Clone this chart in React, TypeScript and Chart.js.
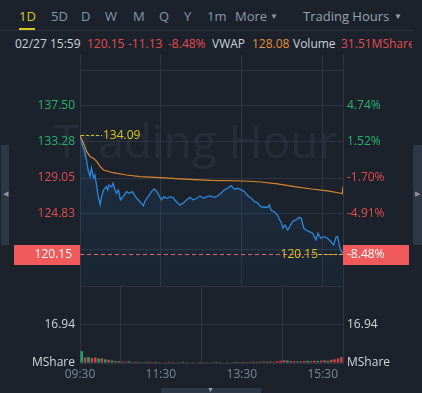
import React, { useEffect, useRef } from 'react';
import { Chart, registerables } from 'chart.js';

Chart.register(...registerables);

// ---------- data ----------
const prevClose = 131.28;
const lastPrice = 120.15;
const changeValue = -11.13;
const changePct = -8.48;
const vwapLast = 128.08;
const volumeTotal = 31.51;
const dayHigh = 134.09;
const dateLabel = '02/27 15:59';

const priceMinutes = [0, 4, 7, 10, 12, 15, 17, 20, 22, 25, 27, 30, 32, 35, 39, 41, 43, 47, 49, 52, 54, 57, 60, 64, 69, 73, 77, 79, 84, 89, 94, 96, 101, 106, 110, 114, 118, 121, 124, 129, 134, 138, 143, 148, 153, 158, 163, 168, 173, 178, 183, 188, 193, 199, 204, 209, 214, 219, 224, 229, 234, 239, 244, 249, 254, 259, 264, 268, 273, 278, 281, 283, 288, 293, 296, 298, 301, 304, 308, 311, 315, 320, 325, 328, 332, 335, 340, 345, 350, 353, 357, 362, 367, 372, 376, 380, 382, 385, 388, 390];
const priceValues = [134.09, 132.73, 132.14, 130.97, 129.99, 129.21, 130.23, 129.05, 129.40, 128.03, 126.86, 125.89, 126.86, 127.65, 128.03, 127.65, 128.23, 128.03, 128.43, 127.65, 127.26, 127.65, 126.47, 126.86, 127.45, 127.26, 127.45, 127.26, 126.67, 126.27, 125.77, 126.27, 126.86, 127.45, 127.76, 127.45, 126.86, 126.47, 126.86, 126.67, 126.86, 126.76, 126.27, 125.89, 126.08, 126.47, 126.79, 126.47, 126.67, 126.94, 126.67, 126.86, 126.94, 126.79, 126.94, 127.26, 127.65, 127.84, 128.15, 127.73, 127.84, 127.65, 127.45, 126.94, 126.67, 126.27, 126.08, 125.69, 125.62, 125.62, 125.89, 125.30, 125.10, 124.71, 124.13, 123.93, 123.15, 123.54, 122.95, 123.34, 123.93, 124.13, 124.44, 124.33, 123.15, 122.95, 122.75, 122.57, 121.78, 122.57, 121.98, 122.17, 121.98, 121.58, 121.19, 122.17, 122.17, 120.99, 120.41, 120.15];

const vwapMinutes = [0, 5, 10, 15, 20, 25, 30, 35, 40, 49, 69, 89, 119, 148, 178, 194, 244, 268, 293, 318, 343, 367, 387, 389, 390];
const vwapValues = [134.09, 133.12, 132.14, 131.55, 131.36, 130.97, 130.38, 129.99, 129.87, 129.67, 129.40, 129.21, 129.09, 128.94, 128.82, 128.76, 128.70, 128.58, 128.35, 128.03, 127.76, 127.53, 127.26, 127.20, 128.08];

// 5-minute volume buckets (M shares)
const volumeValues = [5.2, 2.4, 2.6, 2.2, 2.5, 2.0, 2.1, 1.6, 1.4, 1.1,
  0.9, 0.8, 0.7, 0.6, 0.8, 0.5, 0.6, 0.5, 0.4, 0.5,
  0.6, 0.4, 0.5, 0.4, 0.3, 0.4, 0.5, 0.4, 0.3, 0.4,
  0.5, 0.4, 0.3, 0.4, 0.3, 0.4, 0.3, 0.4, 0.3, 0.4,
  0.5, 0.4, 0.3, 0.4, 0.3, 0.4, 0.5, 0.4, 0.5, 0.4,
  0.5, 0.6, 0.5, 0.6, 0.7, 0.6, 0.7, 0.6, 0.8, 1.0,
  1.2, 1.1, 0.9, 0.8, 0.7, 0.8, 0.9, 1.0, 0.8, 1.0,
  0.9, 1.1, 1.2, 1.0, 1.4, 1.6, 2.0, 2.6];
const volumeDirs = ['u', 'd', 'u', 'd', 'd', 'u', 'd', 'u', 'd', 'u',
  'd', 'u', 'd', 'd', 'u', 'd', 'd', 'u', 'd', 'u',
  'd', 'd', 'u', 'd', 'u', 'd', 'd', 'u', 'd', 'd',
  'u', 'd', 'u', 'd', 'd', 'u', 'd', 'd', 'u', 'd',
  'u', 'd', 'd', 'u', 'd', 'd', 'u', 'd', 'd', 'u',
  'd', 'd', 'u', 'd', 'd', 'u', 'd', 'd', 'd', 'd',
  'd', 'u', 'd', 'd', 'u', 'd', 'd', 'u', 'd', 'd',
  'u', 'd', 'd', 'u', 'd', 'd', 'd', 'd'];
const volumeBucketMinutes = 5;

const timeTickMinutes = [0, 120, 240, 360];
const timeTickLabels = ['09:30', '11:30', '13:30', '15:30'];
const priceTickValues = [116.38, 120.61, 124.83, 129.05, 133.28, 137.50, 141.72];
const priceLabelValues = [137.50, 133.28, 129.05, 124.83];
const volumeTickValues = [0, 16.94, 33.88];
const volumeTickLabels = ['MShare', '16.94', ''];
const tabLabels = ['1D', '5D', 'D', 'W', 'M', 'Q', 'Y', '1m'];
const watermarkText = 'Trading Hour';

// ---------- style ----------
const FONT = "'Open Sans', 'Noto Sans', sans-serif";
const BG = '#1b222c';
const GRID = '#2c3541';
const BLUE = '#2b87dc';
const ORANGE = '#d9852c';
const GREEN = '#22b573';
const RED = '#e34b4f';
const RED_BOX = '#f05a5a';
const YELLOW = '#d8c51c';
const BAR_GREEN = '#1fa66a';
const BAR_RED = '#c9444a';
const LABEL = '#d3d7dc';
const TIME = '#7b8794';

const isLabeled = (v: number) => priceLabelValues.some((p) => Math.abs(p - v) < 0.01);

const fitY = (w: number) => (s: any) => {
  s.width = w;
  s.paddingTop = 0;
  s.paddingBottom = 0;
};

const watermarkPlugin = {
  id: 'watermark',
  beforeDraw(chart: any) {
    const { ctx } = chart;
    ctx.save();
    ctx.font = `46px ${FONT}`;
    ctx.fillStyle = 'rgba(200,215,235,0.065)';
    ctx.textAlign = 'left';
    ctx.textBaseline = 'alphabetic';
    ctx.fillText(watermarkText, 54, 158);
    ctx.restore();
  },
};

const overlayPlugin = {
  id: 'overlay',
  afterDraw(chart: any) {
    const { ctx, chartArea, scales } = chart;
    const y = Math.round(scales.y.getPixelForValue(lastPrice)) + 0.5;
    const yH = Math.round(scales.y.getPixelForValue(dayHigh)) + 0.5;
    const xH = scales.x.getPixelForValue(priceMinutes[0]);
    ctx.save();
    ctx.lineWidth = 1;
    // last price dashed line
    ctx.strokeStyle = '#e2636a';
    ctx.setLineDash([4, 3]);
    ctx.beginPath();
    ctx.moveTo(chartArea.left, y);
    ctx.lineTo(chartArea.right, y);
    ctx.stroke();
    // yellow label of last price
    ctx.font = `12px ${FONT}`;
    ctx.textBaseline = 'middle';
    ctx.fillStyle = YELLOW;
    ctx.textAlign = 'right';
    ctx.fillText(lastPrice.toFixed(2), chartArea.right - 25, y);
    ctx.strokeStyle = YELLOW;
    ctx.setLineDash([3, 2]);
    ctx.beginPath();
    ctx.moveTo(chartArea.right - 24, y);
    ctx.lineTo(chartArea.right - 1, y);
    ctx.stroke();
    // day high
    ctx.beginPath();
    ctx.moveTo(xH + 1, yH);
    ctx.lineTo(xH + 22, yH);
    ctx.stroke();
    ctx.textAlign = 'left';
    ctx.fillText(dayHigh.toFixed(2), xH + 23, yH);
    // boxes
    ctx.setLineDash([]);
    ctx.fillStyle = RED_BOX;
    ctx.fillRect(14, Math.round(y) - 10, chartArea.left - 14, 20);
    ctx.fillRect(chartArea.right, Math.round(y) - 10, 66, 20);
    ctx.fillStyle = '#ffffff';
    ctx.textAlign = 'right';
    ctx.fillText(lastPrice.toFixed(2), chartArea.left - 8, y);
    ctx.textAlign = 'left';
    ctx.fillText(changePct.toFixed(2) + '%', chartArea.right + 4, y);
    ctx.restore();
  },
};

export default function App() {
  const priceRef = useRef<HTMLCanvasElement>(null);
  const volRef = useRef<HTMLCanvasElement>(null);

  useEffect(() => {
    Chart.defaults.font.family = FONT;
    Chart.defaults.font.size = 12;

    const priceChart = new Chart(priceRef.current as HTMLCanvasElement, {
      type: 'line',
      data: {
        datasets: [
          {
            label: 'VWAP',
            data: vwapMinutes.map((m, i) => ({ x: m, y: vwapValues[i] })),
            borderColor: ORANGE,
            borderWidth: 1.2,
            pointRadius: 0,
            fill: false,
            tension: 0,
            order: 0,
          },
          {
            label: 'Price',
            data: priceMinutes.map((m, i) => ({ x: m, y: priceValues[i] })),
            borderColor: BLUE,
            borderWidth: 1.3,
            pointRadius: 0,
            tension: 0,
            fill: 'start',
            order: 1,
            backgroundColor: (c: any) => {
              const { chart } = c;
              const area = chart.chartArea;
              if (!area) return 'rgba(40,130,220,0.1)';
              const g = chart.ctx.createLinearGradient(0, area.top, 0, area.bottom);
              g.addColorStop(0, 'rgba(40,130,220,0.2)');
              g.addColorStop(1, 'rgba(40,130,220,0.03)');
              return g;
            },
          },
        ],
      },
      options: {
        responsive: false,
        animation: false,
        events: [],
        layout: { padding: { top: 55, bottom: 4, left: 0, right: 0 } },
        plugins: { legend: { display: false }, tooltip: { enabled: false } },
        scales: {
          x: {
            type: 'linear',
            min: 0,
            max: 390,
            afterBuildTicks: (s: any) => { s.ticks = timeTickMinutes.map((v) => ({ value: v })); },
            afterFit: (s: any) => { s.height = 0; s.paddingLeft = 0; s.paddingRight = 0; },
            ticks: { display: false },
            grid: { color: GRID, drawTicks: false },
            border: { display: false },
          },
          y: {
            position: 'left',
            min: 116.38,
            max: 143.48,
            afterBuildTicks: (s: any) => { s.ticks = priceTickValues.map((v) => ({ value: v })); },
            afterFit: fitY(80),
            ticks: {
              autoSkip: false,
              padding: 5,
              font: { size: 12, family: FONT },
              color: (c: any) => (c.tick && c.tick.value > prevClose ? GREEN : RED),
              callback: (v: any) => (isLabeled(Number(v)) ? Number(v).toFixed(2) : ''),
            },
            grid: { color: GRID, drawTicks: false },
            border: { color: GRID },
          },
          y2: {
            position: 'right',
            min: 116.38,
            max: 143.48,
            afterBuildTicks: (s: any) => { s.ticks = priceTickValues.map((v) => ({ value: v })); },
            afterFit: fitY(79),
            ticks: {
              autoSkip: false,
              padding: 4,
              font: { size: 12, family: FONT },
              color: (c: any) => (c.tick && c.tick.value > prevClose ? GREEN : RED),
              callback: (v: any) =>
                isLabeled(Number(v)) ? (((Number(v) / prevClose) - 1) * 100).toFixed(2) + '%' : '',
            },
            grid: { display: false, drawTicks: false },
            border: { color: GRID },
          },
        },
      },
      plugins: [watermarkPlugin, overlayPlugin],
    } as any);

    const volChart = new Chart(volRef.current as HTMLCanvasElement, {
      type: 'bar',
      data: {
        datasets: [
          {
            label: 'Volume',
            data: volumeValues.map((v, i) => ({ x: i * volumeBucketMinutes + volumeBucketMinutes / 2, y: v })),
            backgroundColor: volumeDirs.map((d) => (d === 'u' ? BAR_GREEN : BAR_RED)),
            borderWidth: 0,
            barPercentage: 0.75,
            categoryPercentage: 1,
          },
        ],
      },
      options: {
        responsive: false,
        animation: false,
        events: [],
        layout: { padding: { top: 6, bottom: 0, left: 0, right: 0 } },
        plugins: { legend: { display: false }, tooltip: { enabled: false } },
        scales: {
          x: {
            type: 'linear',
            min: 0,
            max: 390,
            offset: false,
            afterBuildTicks: (s: any) => { s.ticks = timeTickMinutes.map((v) => ({ value: v })); },
            afterFit: (s: any) => { s.height = 30; s.paddingLeft = 0; s.paddingRight = 0; },
            ticks: {
              autoSkip: false,
              maxRotation: 0,
              padding: 4,
              color: TIME,
              font: { size: 12, family: FONT },
              callback: (v: any) => timeTickLabels[timeTickMinutes.indexOf(Number(v))] ?? '',
            },
            grid: { color: GRID, drawTicks: false },
            border: { color: GRID },
          },
          y: {
            position: 'left',
            min: 0,
            max: 33.88,
            afterBuildTicks: (s: any) => { s.ticks = volumeTickValues.map((v) => ({ value: v })); },
            afterFit: fitY(80),
            ticks: {
              autoSkip: false,
              padding: 5,
              color: LABEL,
              font: { size: 12, family: FONT },
              callback: (v: any) => volumeTickLabels[volumeTickValues.indexOf(Number(v))] ?? '',
            },
            grid: { color: GRID, drawTicks: false },
            border: { color: GRID },
          },
          y2: {
            position: 'right',
            min: 0,
            max: 33.88,
            afterBuildTicks: (s: any) => { s.ticks = volumeTickValues.map((v) => ({ value: v })); },
            afterFit: fitY(79),
            ticks: {
              autoSkip: false,
              padding: 4,
              color: LABEL,
              font: { size: 12, family: FONT },
              callback: (v: any) => volumeTickLabels[volumeTickValues.indexOf(Number(v))] ?? '',
            },
            grid: { display: false, drawTicks: false },
            border: { color: GRID },
          },
        },
      },
    } as any);

    return () => {
      priceChart.destroy();
      volChart.destroy();
    };
  }, []);

  const tabX = [19, 51, 81, 105, 133, 159, 184, 207];
  const txt = (extra: React.CSSProperties): React.CSSProperties => ({
    position: 'absolute',
    fontFamily: FONT,
    whiteSpace: 'nowrap',
    ...extra,
  });

  return (
    <div style={{ position: 'fixed', left: 0, top: 0, width: 422, height: 393, background: BG, overflow: 'hidden' }}>
      {/* tab bar */}
      {tabLabels.map((t, i) => (
        <div key={t} style={txt({ left: tabX[i], top: 7, fontSize: 13, lineHeight: '18px', color: i === 0 ? '#d6cb18' : '#8696ab' })}>{t}</div>
      ))}
      <div style={{ position: 'absolute', left: 19, top: 28, width: 16, height: 2, background: '#d6cb18' }} />
      <div style={txt({ left: 235, top: 7, fontSize: 13, lineHeight: '18px', color: '#8e99a6' })}>More</div>
      <div style={txt({ left: 270, top: 7, fontSize: 8, lineHeight: '18px', color: '#8e99a6' })}>▼</div>
      <div style={txt({ left: 303, top: 7, fontSize: 13, lineHeight: '18px', color: '#98a2ae' })}>Trading Hours</div>
      <div style={txt({ left: 394, top: 7, fontSize: 8, lineHeight: '18px', color: '#98a2ae' })}>▼</div>
      <div style={{ position: 'absolute', left: 0, top: 30, width: 413, height: 1, background: '#2b333e' }} />

      {/* info line */}
      <div style={{ position: 'absolute', left: 0, top: 35, width: 412, height: 18, overflow: 'hidden' }}>
        <div style={txt({ left: 15, top: 0, fontSize: 12, lineHeight: '18px', color: '#cdd2d8' })}>{dateLabel}</div>
        <div style={txt({ left: 87, top: 0, fontSize: 12, lineHeight: '18px', color: RED })}>{lastPrice.toFixed(2)}</div>
        <div style={txt({ left: 128, top: 0, fontSize: 12, lineHeight: '18px', color: RED })}>{changeValue.toFixed(2)}</div>
        <div style={txt({ left: 168, top: 0, fontSize: 12, lineHeight: '18px', color: RED })}>{changePct.toFixed(2)}%</div>
        <div style={txt({ left: 212, top: 0, fontSize: 12, lineHeight: '18px', color: '#cdd2d8' })}>VWAP</div>
        <div style={txt({ left: 252, top: 0, fontSize: 12, lineHeight: '18px', color: '#e58d2c' })}>{vwapLast.toFixed(2)}</div>
        <div style={txt({ left: 293, top: 0, fontSize: 12, lineHeight: '18px', color: '#cdd2d8' })}>Volume</div>
        <div style={txt({ left: 341, top: 0, fontSize: 12, lineHeight: '18px', color: RED })}>{volumeTotal.toFixed(2)}MShare</div>
      </div>

      {/* side handles */}
      <div style={{ position: 'absolute', left: 1, top: 145, width: 8, height: 100, background: '#2d3745' }} />
      <div style={txt({ left: 3, top: 187, fontSize: 7, lineHeight: '14px', color: '#8a95a2' })}>◀</div>
      <div style={{ position: 'absolute', left: 413, top: 145, width: 9, height: 100, background: '#2d3745' }} />
      <div style={txt({ left: 415, top: 187, fontSize: 7, lineHeight: '14px', color: '#8a95a2' })}>▶</div>

      <canvas ref={priceRef} width={422} height={290} style={{ position: 'absolute', left: 0, top: 0, width: 422, height: 290 }} />
      <canvas ref={volRef} width={422} height={113} style={{ position: 'absolute', left: 0, top: 280, width: 422, height: 113 }} />

      {/* bottom handle */}
      <div style={{ position: 'absolute', left: 161, top: 388, width: 100, height: 5, background: '#2d3745' }} />
      <div style={txt({ left: 207, top: 385, fontSize: 7, lineHeight: '10px', color: '#9aa5b1' })}>▼</div>
    </div>
  );
}
